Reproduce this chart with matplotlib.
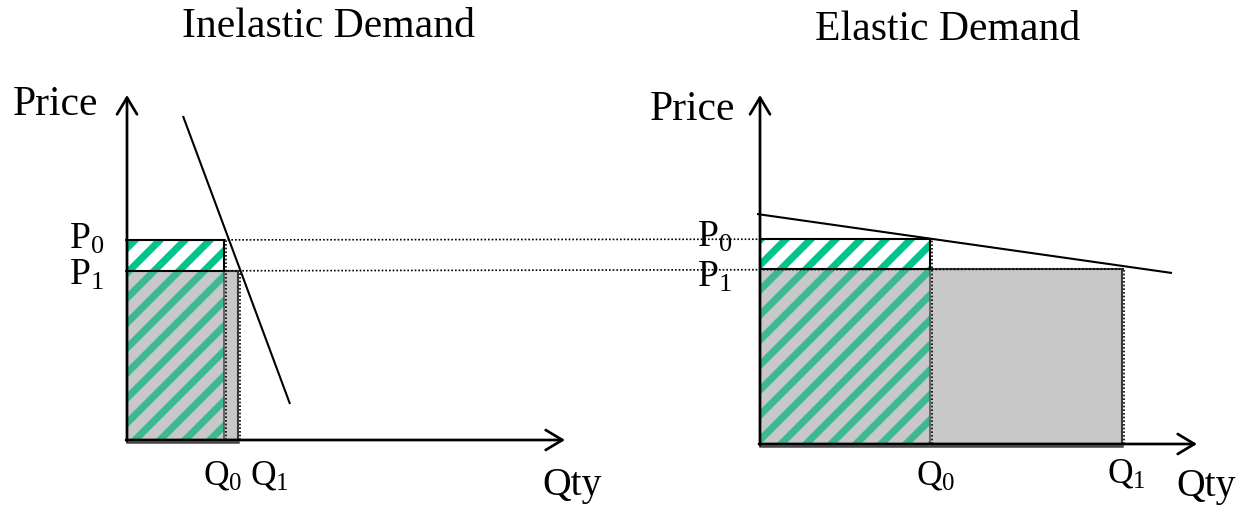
import matplotlib
matplotlib.use("Agg")
import matplotlib.pyplot as plt
from matplotlib.patches import Rectangle

plt.rcParams['font.family'] = ['Liberation Serif', 'DejaVu Serif']
plt.rcParams['mathtext.fontset'] = 'custom'
plt.rcParams['mathtext.rm'] = 'Liberation Serif'
plt.rcParams['mathtext.it'] = 'Liberation Serif:italic'
plt.rcParams['hatch.linewidth'] = 3.4

# ---- data (diagram units, measured from each panel's origin) ----
titles = ['Inelastic Demand', 'Elastic Demand']
P0 = [200, 205]
P1 = [169, 175]
Q0 = [97, 170]
Q1 = [111, 362]
demand_x = [[56, 163], [-3, 412]]
demand_y = [[324, 36], [230, 171]]
axis_len_x = [438, 437]
axis_len_y = [345, 349]

# ---- layout ----
W, H = 1236, 506
DPI = 150
origins_img = [(127, 440), (760, 444)]

fig = plt.figure(figsize=(W / DPI, H / DPI), dpi=DPI)
ax = fig.add_axes([0, 0, 1, 1])
ax.set_xlim(0, W)
ax.set_ylim(0, H)
ax.axis('off')

def img(x, y):
    return x, H - y

GREEN = '#00c48c'
GREEN2 = '#3cb994'
GRAY = '#c8c8c8'

for i in range(2):
    ox, oy = img(*origins_img[i])
    # full gray revenue rectangle at new price
    ax.add_patch(Rectangle((ox, oy), Q1[i], P1[i], facecolor=GRAY,
                           edgecolor='#3a3a3a', lw=1.0, zorder=2))
    # hatched part of old revenue below P1
    ax.add_patch(Rectangle((ox, oy), Q0[i], P1[i], facecolor=GRAY,
                           edgecolor=GREEN2, hatch='//', lw=0, zorder=3))
    ax.add_patch(Rectangle((ox, oy), Q0[i], P1[i], facecolor='none',
                           edgecolor='#555555', lw=0.8, zorder=4))
    # hatched strip between P1 and P0
    ax.add_patch(Rectangle((ox, oy + P1[i]), Q0[i], P0[i] - P1[i],
                           facecolor='white', edgecolor=GREEN, hatch='//',
                           lw=0, zorder=3))
    ax.add_patch(Rectangle((ox, oy + P1[i]), Q0[i], P0[i] - P1[i],
                           facecolor='none', edgecolor='black', lw=1.0, zorder=4))
    # vertical dotted guides
    ax.plot([ox + Q0[i] + 2, ox + Q0[i] + 2], [oy, oy + P0[i]], ls=(0, (1, 1.2)),
            color='black', lw=0.8, zorder=5)
    ax.plot([ox + Q1[i] + 2, ox + Q1[i] + 2], [oy, oy + P1[i]], ls=(0, (1, 1.2)),
            color='black', lw=0.8, zorder=5)
    # bottom edge of the revenue boxes
    ax.plot([ox, ox + Q1[i]], [oy - 1.5, oy - 1.5], color='#444444', lw=1.2, zorder=5)
    # demand curve
    ax.plot([ox + v for v in demand_x[i]], [oy + v for v in demand_y[i]],
            color='black', lw=1.0, zorder=6, solid_capstyle='butt')
    # axes with arrows
    arrow = dict(arrowstyle='->,head_length=0.8,head_width=0.48', lw=1.3,
                 color='black', shrinkA=0, shrinkB=0)
    ax.annotate('', xy=(ox, oy + axis_len_y[i]), xytext=(ox, oy - 1),
                arrowprops=arrow, zorder=7)
    ax.annotate('', xy=(ox + axis_len_x[i], oy), xytext=(ox - 1, oy),
                arrowprops=arrow, zorder=7)

# horizontal dotted price guides spanning both panels
(lx, ly), (rx, ry) = img(*origins_img[0]), img(*origins_img[1])
ax.plot([lx - 2, rx + Q0[1]], [ly + P0[0], ry + P0[1]], ls=(0, (1, 1.2)),
        color='black', lw=0.8, zorder=5)
ax.plot([lx - 2, rx + Q1[1] + 2], [ly + P1[0], ry + P1[1]], ls=(0, (1, 1.2)),
        color='black', lw=0.8, zorder=5)

# ---- text ----
def label(x, y, s, size):
    ax.text(*img(x, y), s, fontsize=size, ha='left', va='baseline', zorder=8)

label(182, 37, titles[0], 20)
label(815, 40, titles[1], 20)
label(13, 115, 'Price', 20)
label(650, 120, 'Price', 20)
label(69, 249, r'$\mathrm{P}_0$', 18)
label(69, 285, r'$\mathrm{P}_1$', 18)
label(697, 247, r'$\mathrm{P}_0$', 18)
label(697, 287, r'$\mathrm{P}_1$', 18)
label(203, 485, r'$\mathrm{Q}_0$', 17)
label(250, 485, r'$\mathrm{Q}_1$', 17)
label(916, 485, r'$\mathrm{Q}_0$', 17)
label(1107, 482, r'$\mathrm{Q}_1$', 17)
label(542, 495, 'Qty', 19)
label(1176, 496, 'Qty', 19)

fig.savefig('out.png', dpi=DPI, facecolor='white')
